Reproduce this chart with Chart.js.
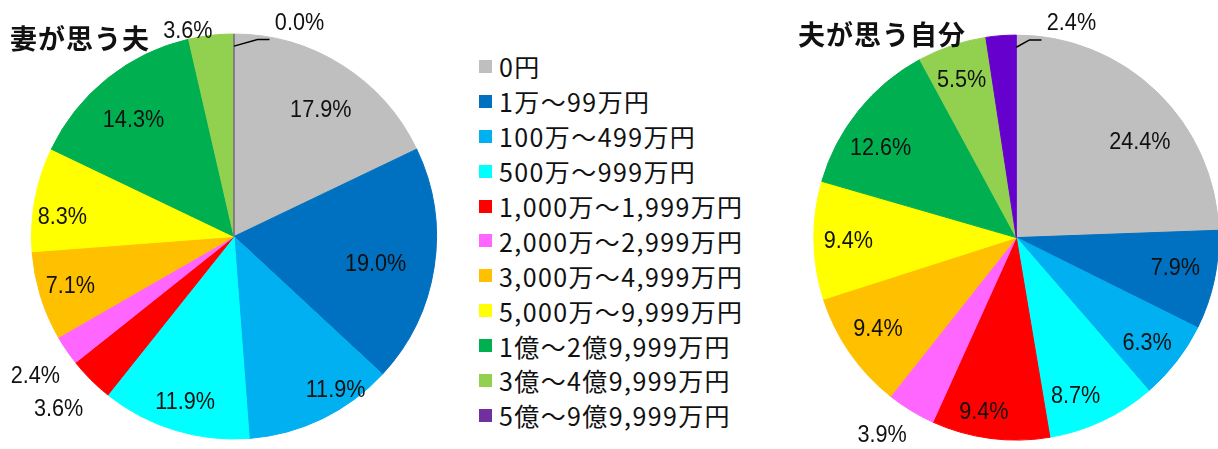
<!DOCTYPE html>
<html>
<head>
    <meta charset="utf-8">
    <title>妻が思う夫 / 夫が思う自分</title>
    <script src="https://cdn.jsdelivr.net/npm/chart.js"></script>
    <style>
        html, body {
            margin: 0;
            padding: 0;
            background: #ffffff;
            width: 1218px;
            height: 449px;
            overflow: hidden; /* right pie runs off the edge, as in the original */
            position: relative;
        }

        canvas {
            position: absolute;
            top: 0;
        }

        #wifeChart { left: 0; }
        #husbandChart { left: 770px; }

        .pie-title {
            position: absolute;
            font-family: "Noto Sans CJK JP", sans-serif;
            font-weight: bold;
            font-size: 27px;
            letter-spacing: 1px;
            color: #111;
            line-height: 1;
            z-index: 2;
            white-space: nowrap;
        }

        .legend {
            position: absolute;
            left: 479px;
            top: 49px;
            font-family: "Noto Sans CJK JP", sans-serif;
            font-size: 25px;
            letter-spacing: 1.4px;
            color: #111;
        }

        .legend-row {
            height: 34.9px;
            display: flex;
            align-items: center;
            white-space: nowrap;
        }

        .legend-box {
            width: 13px;
            height: 13px;
            margin-right: 7px;
            flex: none;
        }
    </style>
</head>
<body>
    <canvas id="wifeChart" width="470" height="449"></canvas>
    <canvas id="husbandChart" width="460" height="449"></canvas>
    <div class="pie-title" style="left:10px; top:24px;">妻が思う夫</div>
    <div class="pie-title" style="left:798px; top:20px;">夫が思う自分</div>
    <div class="legend" id="legend"></div>

    <script>
        // income brackets (shared by both pies)
        const categories = [
            '0円', '1万～99万円', '100万～499万円', '500万～999万円',
            '1,000万～1,999万円', '2,000万～2,999万円', '3,000万～4,999万円',
            '5,000万～9,999万円', '1億～2億9,999万円', '3億～4億9,999万円', '5億～9億9,999万円'
        ];

        // 妻が思う夫 (%)
        const wifeValues = [17.9, 19.0, 11.9, 11.9, 3.6, 2.4, 7.1, 8.3, 14.3, 3.6, 0.0];

        // 夫が思う自分 (%)
        const husbandValues = [24.4, 7.9, 6.3, 8.7, 9.4, 3.9, 9.4, 9.4, 12.6, 5.5, 2.4];

        const colors = ['#BFBFBF', '#0070C0', '#00B0F0', '#00FFFF', '#FF0000', '#FF66FF',
                        '#FFC000', '#FFFF00', '#00B050', '#92D050', '#7030A0'];
        const husbandColors = colors.slice(0, 10).concat(['#6600CC']);

        // label placement per slice: [fraction of radius, angle shift in degrees, leader line?]
        const wifeLabelPos = [
            [0.756, 2.3], [0.713, 2.7], [0.91, -7.7], [0.855, -0.7], [1.217, 0.4], [1.2, -1.0],
            [0.845, 0], [0.852, -4.5], [0.758, -2.2], [1.038, -6.2], [1.10, 17.1, true]
        ];
        const husbandLabelPos = [
            [0.77, 8.5], [0.80, -1.2], [0.83, 1.2], [0.84, 4.8], [0.88, 3.1], [1.18, 2.8],
            [0.82, 1.1], [0.83, -0.7], [0.80, -5.7], [0.82, -0.7], [1.09, 18.8, true]
        ];

        // draws the % labels (and leader lines) from each arc's geometry
        const sliceLabels = {
            id: 'sliceLabels',
            afterDatasetsDraw(chart, args, opts) {
                const ctx = chart.ctx;
                const meta = chart.getDatasetMeta(0);
                const values = chart.data.datasets[0].data;
                const bg = chart.data.datasets[0].backgroundColor;
                ctx.save();
                meta.data.forEach((arc, i) => {
                    const p = arc.getProps(['x', 'y', 'startAngle', 'endAngle', 'outerRadius'], true);
                    const pos = opts.positions[i];

                    // zero slice: Excel still shows a hairline
                    if (values[i] === 0) {
                        ctx.strokeStyle = bg[i];
                        ctx.lineWidth = 1;
                        ctx.beginPath();
                        ctx.moveTo(p.x, p.y);
                        ctx.lineTo(p.x + Math.cos(p.startAngle) * p.outerRadius,
                                   p.y + Math.sin(p.startAngle) * p.outerRadius);
                        ctx.stroke();
                    }

                    const mid = (p.startAngle + p.endAngle) / 2 + pos[1] * Math.PI / 180;
                    const tx = p.x + Math.cos(mid) * p.outerRadius * pos[0];
                    const ty = p.y + Math.sin(mid) * p.outerRadius * pos[0];

                    if (pos[2]) {
                        const sx = p.x + Math.cos(p.endAngle) * p.outerRadius * 0.94;
                        const sy = p.y + Math.sin(p.endAngle) * p.outerRadius * 0.94;
                        ctx.strokeStyle = '#000';
                        ctx.lineWidth = 1.5;
                        ctx.beginPath();
                        ctx.moveTo(sx, sy);
                        ctx.lineTo(tx - 42, ty + 16);
                        ctx.lineTo(tx - 30, ty + 16);
                        ctx.stroke();
                    }

                    // slightly condensed, like the original label font
                    ctx.fillStyle = '#111';
                    ctx.font = '23px "Liberation Sans", Arial, sans-serif';
                    ctx.textAlign = 'center';
                    ctx.textBaseline = 'middle';
                    ctx.save();
                    ctx.translate(tx, ty);
                    ctx.scale(0.94, 1);
                    ctx.fillText(values[i].toFixed(1) + '%', 0, 0);
                    ctx.restore();
                });
                ctx.restore();
            }
        };

        function makePie(id, values, sliceColors, positions, padding) {
            return new Chart(document.getElementById(id), {
                type: 'pie',
                data: {
                    labels: categories,
                    datasets: [{
                        data: values,
                        backgroundColor: sliceColors,
                        borderColor: sliceColors,
                        borderWidth: 1
                    }]
                },
                options: {
                    responsive: false,
                    maintainAspectRatio: false,
                    animation: false,
                    layout: { padding: padding },
                    plugins: {
                        legend: { display: false },
                        tooltip: { enabled: false },
                        sliceLabels: { positions: positions }
                    }
                },
                plugins: [sliceLabels]
            });
        }

        makePie('wifeChart', wifeValues, colors, wifeLabelPos,
                { left: 31, right: 33, top: 33.5, bottom: 9.5 });
        makePie('husbandChart', husbandValues, husbandColors, husbandLabelPos,
                { left: 43.3, right: 10.7, top: 34.6, bottom: 8.4 });

        // legend built from the same categories / colours
        const legend = document.getElementById('legend');
        categories.forEach((name, i) => {
            const row = document.createElement('div');
            row.className = 'legend-row';
            const box = document.createElement('span');
            box.className = 'legend-box';
            box.style.background = colors[i];
            const text = document.createElement('span');
            text.textContent = name;
            row.appendChild(box);
            row.appendChild(text);
            legend.appendChild(row);
        });
    </script>
</body>
</html>
